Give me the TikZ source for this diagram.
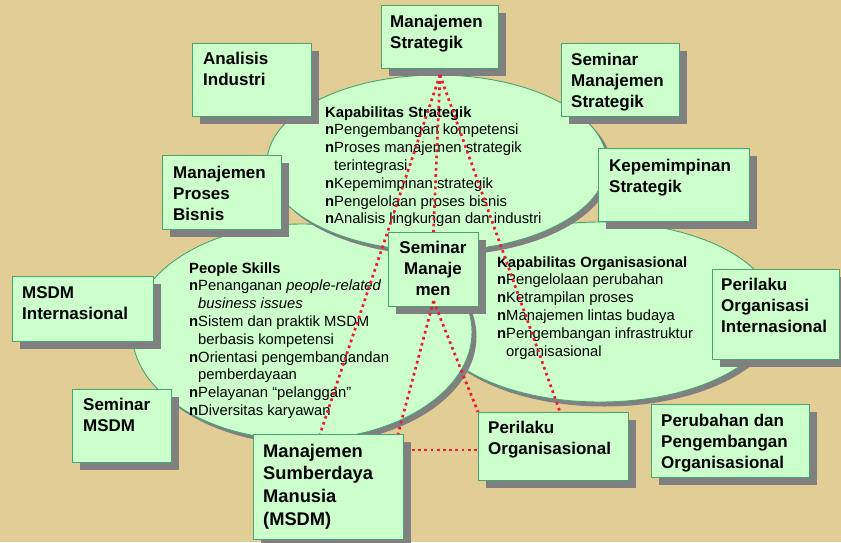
\documentclass[tikz,border=0pt]{standalone}
\usepackage{fontspec}
\setmainfont{Liberation Sans}
\usetikzlibrary{calc,shapes.geometric,shadows}
\definecolor{bgtan}{RGB}{226,206,148}
\definecolor{lgreen}{RGB}{204,255,204}
\definecolor{edgegreen}{RGB}{70,165,115}
\definecolor{shadowgray}{RGB}{128,128,128}
\definecolor{dotred}{RGB}{236,28,52}
\newcommand{\bul}{\textbf{n}}
\newcommand{\hang}{\phantom{\textbf{n}}}
\newcommand{\vlines}[1]{\vtop{\halign{##\hfil\cr#1\crcr}}}
\newcommand{\vclines}[1]{\vtop{\halign{\hfil##\hfil\cr#1\crcr}}}
\tikzset{
  ellbox/.style={ellipse, draw=edgegreen, fill=lgreen, line width=0.9pt, inner sep=0pt,
    drop shadow={shadow xshift=4.5pt, shadow yshift=-4.5pt, opacity=1, fill=shadowgray}},
  greenbox/.style={rectangle, draw=edgegreen, fill=lgreen, line width=1pt, inner sep=0pt, anchor=north west,
    drop shadow={shadow xshift=7.5pt, shadow yshift=-7.5pt, opacity=1, fill=shadowgray}},
  boxtxt/.style={font=\fontsize{17}{21}\selectfont\bfseries, inner sep=0pt, anchor=base west},
  elltxt/.style={font=\fontsize{14.8}{17.8}\selectfont, inner sep=0pt, anchor=base west},
  dotline/.style={draw=dotred, line width=2.7pt, dash pattern=on 2.7pt off 3.5pt}
}
\begin{document}
\begin{tikzpicture}[x=1pt,y=-1pt]
\fill[bgtan] (0,0) rectangle (841,542);
\useasboundingbox (0,0) rectangle (841,542);

% ellipses
\node[ellbox, minimum width=350pt, minimum height=180pt] (ellO) at (600,312) {};
\node[ellbox, minimum width=340pt, minimum height=216pt] (ellP) at (302,332) {};
\node[ellbox, minimum width=340pt, minimum height=176pt] (ellS) at (437,163) {};

% ellipse texts
\node[elltxt] (txtS) at (325,117) {\vlines{\textbf{Kapabilitas Strategik}\cr
\bul Pengembangan kompetensi\cr
\bul Proses manajemen strategik\cr
\hang terintegrasi\cr
\bul Kepemimpinan strategik\cr
\bul Pengelolaan proses bisnis\cr
\bul Analisis lingkungan dan industri}};

\node[elltxt] (txtP) at (189,273) {\vlines{\textbf{People Skills}\cr
\bul Penanganan \textit{people-related}\cr
\hang\textit{business issues}\cr
\bul Sistem dan praktik MSDM\cr
\hang berbasis kompetensi\cr
\bul Orientasi pengembangandan\cr
\hang pemberdayaan\cr
\bul Pelayanan “pelanggan”\cr
\bul Diversitas karyawan}};

\node[elltxt] (txtO) at (497,267) {\vlines{\textbf{Kapabilitas Organisasional}\cr
\bul Pengelolaan perubahan\cr
\bul Ketrampilan proses\cr
\bul Manajemen lintas budaya\cr
\bul Pengembangan infrastruktur\cr
\hang organisasional}};

% boxes
\node[greenbox, minimum width=117pt, minimum height=63pt] (ms) at (381,5) {};
\node[boxtxt] (ms-t) at (390,27) {\vlines{Manajemen\cr Strategik}};

\node[greenbox, minimum width=119pt, minimum height=73pt] (ai) at (192,43) {};
\node[boxtxt] (ai-t) at (203,64) {\vlines{Analisis\cr Industri}};

\node[greenbox, minimum width=118pt, minimum height=73pt] (sms) at (561,43) {};
\node[boxtxt] (sms-t) at (571,65) {\vlines{Seminar\cr Manajemen\cr Strategik}};

\node[greenbox, minimum width=151pt, minimum height=73pt] (ks) at (598,148) {};
\node[boxtxt] (ks-t) at (609,171) {\vlines{Kepemimpinan\cr Strategik}};

\node[greenbox, minimum width=119pt, minimum height=74pt] (mpb) at (162,155) {};
\node[boxtxt] (mpb-t) at (173,178) {\vlines{Manajemen\cr Proses\cr Bisnis}};

\node[greenbox, minimum width=141pt, minimum height=65pt] (msi) at (12,276) {};
\node[boxtxt] (msi-t) at (22,298) {\vlines{MSDM\cr Internasional}};

\node[greenbox, minimum width=99pt, minimum height=73pt] (smsdm) at (72,389) {};
\node[boxtxt] (smsdm-t) at (83,410) {\vlines{Seminar\cr MSDM}};

\node[greenbox, minimum width=90pt, minimum height=74pt] (sman) at (388,232) {};
\node[boxtxt, anchor=base] (sman-t) at (433,253) {\vclines{Seminar\cr Manaje\cr men}};

\node[greenbox, minimum width=127pt, minimum height=90pt] (poi) at (712,269) {};
\node[boxtxt] (poi-t) at (721,290) {\vlines{Perilaku\cr Organisasi\cr Internasional}};

\node[greenbox, minimum width=158pt, minimum height=73pt] (ppo) at (651,404) {};
\node[boxtxt] (ppo-t) at (661,426) {\vlines{Perubahan dan\cr Pengembangan\cr Organisasional}};

\node[greenbox, minimum width=150pt, minimum height=68pt] (po) at (478,412) {};
\node[boxtxt] (po-t) at (488,433) {\vlines{Perilaku\cr Organisasional}};

\node[greenbox, minimum width=150pt, minimum height=105pt] (msdm) at (253,434) {};
\node[boxtxt, font=\fontsize{18.3}{22.8}\selectfont\bfseries] (msdm-t) at (263,457) {\vlines{Manajemen\cr Sumberdaya\cr Manusia\cr (MSDM)}};

% connector points
\coordinate (apex) at ($(ms.south)+(0,6)$);
\coordinate (smanbot) at ($(sman.south)+(0,-6)$);
\coordinate (msdmA) at ($(msdm.north west)+(67,0)$);
\coordinate (msdmB) at ($(msdm.north west)+(145,0)$);
\coordinate (poA) at ($(po.north west)+(82,0)$);
\coordinate (msdmR) at ($(msdm.north east)+(8,16)$);
\coordinate (poL) at ($(po.north west)+(0,38)$);

% dotted connectors
\draw[dotline] (apex) -- (msdmA);
\draw[dotline] (apex) -- (sman.north);
\draw[dotline] (apex) -- (poA);
\draw[dotline] (smanbot) -- (msdmB);
\draw[dotline] (smanbot) -- (po.north west);
\draw[dotline] (msdmR) -- (poL);
\end{tikzpicture}
\end{document}
